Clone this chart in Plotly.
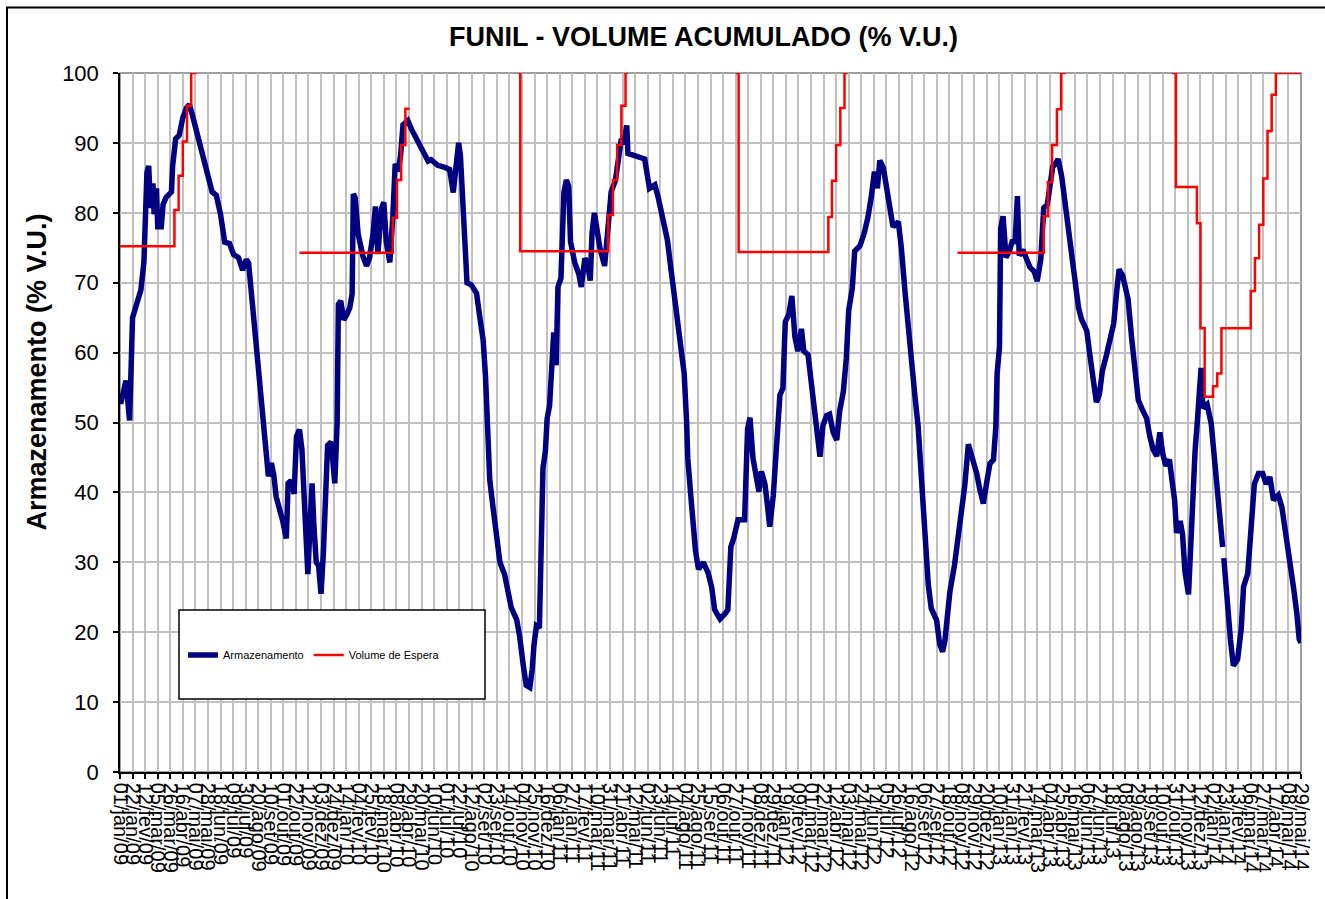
import pandas as pd
import plotly.graph_objects as go

FONT = "Liberation Sans, Arial, sans-serif"

# ---- X tick labels (every 21 days) ----
tick_labels = ["01/jan/09","22/jan/09","12/fev/09","05/mar/09","26/mar/09","16/abr/09","07/mai/09","28/mai/09",
    "18/jun/09","09/jul/09","30/jul/09","20/ago/09","10/set/09","01/out/09","22/out/09","12/nov/09","03/dez/09",
    "24/dez/09","14/jan/10","04/fev/10","25/fev/10","18/mar/10","08/abr/10","29/abr/10","20/mai/10","10/jun/10",
    "01/jul/10","22/jul/10","12/ago/10","02/set/10","23/set/10","14/out/10","04/nov/10","25/nov/10","16/dez/10",
    "06/jan/11","27/jan/11","17/fev/11","10/mar/11","31/mar/11","21/abr/11","12/mai/11","02/jun/11","23/jun/11",
    "14/jul/11","04/ago/11","25/ago/11","15/set/11","06/out/11","27/out/11","17/nov/11","08/dez/11","29/dez/11",
    "19/jan/12","09/fev/12","01/mar/12","22/mar/12","12/abr/12","03/mai/12","24/mai/12","14/jun/12","05/jul/12",
    "26/jul/12","16/ago/12","06/set/12","27/set/12","18/out/12","08/nov/12","29/nov/12","20/dez/12","10/jan/13",
    "31/jan/13","21/fev/13","14/mar/13","04/abr/13","25/abr/13","16/mai/13","06/jun/13","27/jun/13","18/jul/13",
    "08/ago/13","29/ago/13","19/set/13","10/out/13","31/out/13","21/nov/13","12/dez/13","02/jan/14","23/jan/14",
    "13/fev/14","06/mar/14","27/mar/14","17/abr/14","08/mai/14","29/mai/14"]
month_pt = {"jan":1,"fev":2,"mar":3,"abr":4,"mai":5,"jun":6,"jul":7,"ago":8,"set":9,"out":10,"nov":11,"dez":12}

# ---- Armazenamento (% V.U.) : days since 01/jan/2009, values ----
arm_days = [0,2,10,16,21,30,35,40,42,45,48,51,55,57,61,63,69,72,77,86,88,93,99,105,111,116,120,127,135,141,147,
    154,161,168,175,183,190,198,205,211,215,219,225,229,232,236,240,244,248,253,257,261,267,272,278,281,286,291,
    295,300,304,307,310,314,318,321,324,328,332,336,340,344,347,353,359,363,365,369,374,379,384,388,390,393,398,
    406,412,417,423,427,431,437,441,445,451,456,460,465,469,473,481,487,492,501,506,515,520,531,543,551,557,562,
    566,569,573,577,580,587,596,601,607,611,615,618,623,629,635,643,648,654,663,668,674,679,685,689,692,696,701,
    704,707,711,714,718,721,725,729,732,737,739,742,746,750,753,760,767,771,777,781,786,789,793,799,802,810,816,
    821,828,834,838,842,847,849,858,869,877,885,894,899,908,915,921,927,933,938,943,947,949,954,958,962,967,975,
    983,989,994,1003,1011,1016,1021,1026,1033,1044,1049,1053,1058,1062,1068,1072,1078,1082,1086,1092,1097,1103,
    1108,1112,1118,1123,1128,1133,1139,1143,1150,1156,1161,1166,1170,1175,1181,1186,1192,1198,1203,1209,1214,
    1218,1224,1228,1237,1244,1250,1256,1261,1266,1270,1276,1281,1287,1292,1301,1306,1312,1317,1323,1329,1334,
    1340,1345,1351,1356,1365,1370,1375,1379,1383,1387,1395,1401,1407,1412,1418,1423,1432,1437,1443,1449,1454,
    1460,1464,1466,1470,1472,1476,1481,1486,1492,1496,1500,1503,1509,1515,1521,1528,1533,1539,1544,1550,1554,
    1559,1563,1568,1574,1579,1585,1590,1596,1602,1607,1616,1621,1627,1632,1637,1642,1649,1656,1661,1666,1670,
    1676,1680,1685,1691,1696,1702,1709,1716,1721,1727,1733,1738,1743,1748,1754,1759,1763,1766,1772,1776,1780,
    1786,1790,1794,1797,1800,1805,1807,1810,1817,1824,1828,1833,1839,1843,1844,1845,1850,1856,1861,1868,1874,
    1878,1885,1891,1896,1903,1910,1916,1922,1928,1936,1942,1949,1954,1962,1967,1971,1974]
arm_vals = [53,53,56,50.3,65,68,69,73,77,85.7,86.7,80.7,84.2,79.8,83.5,78,78,81.2,82.2,83,86.7,90.6,91.1,93.6,95,
    95.5,94.3,92,89,86.7,84.7,83,82.5,79.8,75.8,75.6,74,73.6,71.8,73.3,72.8,68.9,63,59.5,56,53,49.6,46.2,42.3,
    44.2,42.5,39.4,37.6,35.9,33.4,41.3,41.7,39.8,48,49,46.2,41.3,34,28.3,35.9,41.3,35.4,30,29.5,25.5,31.5,40.8,
    46.7,47.2,41.3,50.1,66.9,67.4,64.7,65.4,66.4,68.4,82.7,82.2,77,73.8,72.4,73.5,77,80.9,74.1,80.6,81.5,75.9,
    72.9,79.4,87,85.9,88.2,92.6,93.2,92,91.2,90,88.8,87.4,87.6,86.8,86.5,86.2,82.9,87.6,90,88.2,81.2,74.7,70,
    69.7,68.5,65.3,61.8,56.5,50,41.8,38.2,33.5,30,28.2,25.9,23.5,21.8,19.4,15.3,12.4,12.1,14.7,18.2,20.9,20.6,
    35.9,43.5,45.9,50.6,52.4,57.6,62.9,58.2,69.4,70.6,75.9,82.9,84.7,83.8,75.9,72.9,71.2,69.4,73.5,72.9,70.3,
    77.1,80,75.9,75,72.4,79.3,83,84.6,87.7,90.6,89.8,92.5,88.5,88.3,88,87.7,83.5,84,82.4,79.3,76.1,71.9,67.6,
    63.9,60.2,57,50.2,44.9,39.6,35.3,31.6,29,30,28.5,26.4,23.2,21.9,22.6,23.2,32.2,33.5,36.1,36.1,49.1,50.7,
    44.9,43.3,40.1,43,41.2,38.3,35.1,39.6,46.5,53.9,54.9,64.4,65.5,68.1,62.3,60.2,63.4,60.2,59.7,55.4,51.2,
    47.5,45.1,49.6,51,51.2,48.6,47.5,51.7,54.4,59.2,66,69.2,74.5,75.3,77.1,79.3,82.4,85.9,83.5,87.5,86.4,83.5,
    81,78,78.7,75,68.8,63.7,58.6,53.5,49.5,41,32.5,26.8,23.4,21.7,18.3,17.2,18.9,22.3,25.7,29.7,33.6,36.5,41,
    46.9,45.5,42.7,40.5,38.4,41.6,44.1,44.7,49.5,56.9,60.8,77.8,79.5,73.6,74.4,76.1,75.6,82.4,73.9,74.7,73.3,
    72.2,71.6,70.2,73.3,80.7,81.2,84.1,86.6,86.9,87.7,85.2,81.8,79,75.6,71,66.5,64.8,63.1,59.7,56.3,52.9,54,
    57.4,59.7,62,64.2,68.8,71.9,71,69,67.6,62,57.4,53.2,51.8,50.6,48.1,46.1,45.2,48.6,45.5,43.8,44.7,41.6,38.7,
    34.2,35.9,34,28.7,25.4,33.6,42.2,46,49.3,54.5,57.8,52.1,52.6,49.8,46.4,42.2,37.4,32.2,None,30.6,24.2,19,
    15.2,16.1,20.4,26.5,28.4,36,41.2,42.7,42.7,41.2,42.2,38.9,39.6,37.9,34.1,30.8,26.1,22.7,19,18.5]

# ---- Volume de Espera (step series, None = break) ----
esp_days = [0,91,98,105,112,119,128, None,
    300,456,463,470,477,484, None,
    666,669,816,824,831,838,845,849, None,
    1029,1034,1184,1190,1197,1204,1211,1216, None,
    1400,1544,1551,1558,1566,1573,1581, None,
    1758,1765,1800,1806,1813,1827,1834,1841,1890,1897,1904,1911,1918,1925,1932,1974]
esp_vals = [75.2,80.4,85.3,90.2,95.3,100,100, None,
    74.3,79.3,84.7,89.7,94.9,94.9, None,
    100,74.5,79.7,84.7,89.7,95.3,100,100, None,
    100,74.4,79.4,84.6,89.7,95,100,100, None,
    74.3,79.5,84.4,89.7,94.8,100,100, None,
    100,83.7,78.5,63.5,53.7,55.2,57.0,63.5,68.8,73.5,78.3,84.9,91.7,96.9,100,100]

base = pd.Timestamp("2009-01-01")
def to_date(d):
    return None if d is None else base + pd.Timedelta(days=d)

arm_x = [to_date(d) for d in arm_days]
esp_x = [to_date(d) for d in esp_days]

def parse_lbl(s):
    dd, mm, yy = s.split("/")
    return pd.Timestamp(year=2000 + int(yy), month=month_pt[mm], day=int(dd))
tick_vals = [parse_lbl(s) for s in tick_labels]

fig = go.Figure()
fig.add_trace(go.Scatter(x=arm_x, y=arm_vals, mode="lines", name="Armazenamento",
                         line=dict(color="#000080", width=5.5), connectgaps=False))
fig.add_trace(go.Scatter(x=esp_x, y=esp_vals, mode="lines", name="Volume de Espera",
                         line=dict(color="#FF0000", width=2.5, shape="hv"), connectgaps=False))

L, R, T, B = 120, 24, 73, 127
W, H = 1325, 899
pw, ph = W - L - R, H - T - B

def px(xp):
    return (xp - L) / pw
def py(yp):
    return (H - B - yp) / ph

fig.update_layout(
    width=W, height=H,
    margin=dict(l=L, r=R, t=T, b=B, autoexpand=False),
    paper_bgcolor="white", plot_bgcolor="white",
    font=dict(family=FONT, color="black"),
    showlegend=True,
    legend=dict(orientation="h", x=px(183), y=py(655), xanchor="left", yanchor="middle",
                bgcolor="rgba(0,0,0,0)", font=dict(size=11, family=FONT),
                itemwidth=30, tracegroupgap=0),
    xaxis=dict(type="date", range=[tick_vals[0], tick_vals[-1]],
               tickmode="array", tickvals=tick_vals, ticktext=tick_labels,
               tickangle=90, tickfont=dict(size=20, family=FONT),
               showgrid=True, gridcolor="#c0c0c0", gridwidth=1.5,
               showline=True, linecolor="black", linewidth=1.5,
               ticks="outside", ticklen=5, tickcolor="black", tickwidth=1.5,
               zeroline=False, automargin=False),
    yaxis=dict(range=[0, 100], tickmode="linear", tick0=0, dtick=10,
               tickfont=dict(size=22, family=FONT), ticklabelstandoff=10,
               showgrid=True, gridcolor="#c0c0c0", gridwidth=1.5,
               showline=True, linecolor="black", linewidth=1.5,
               ticks="outside", ticklen=5, tickcolor="black", tickwidth=1.5,
               zeroline=False, automargin=False),
)

fig.add_annotation(text="<b>FUNIL - VOLUME ACUMULADO (% V.U.)</b>", xref="paper", yref="paper",
                   x=px(703.5), y=py(37), xanchor="center", yanchor="middle", showarrow=False,
                   font=dict(size=27, family=FONT, color="black"))
fig.add_annotation(text="<b>Armazenamento (% V.U.)</b>", xref="paper", yref="paper",
                   x=px(36), y=py(372.5), xanchor="center", yanchor="middle", showarrow=False,
                   textangle=-90, font=dict(size=27, family=FONT, color="black"))

# plot-area top/right frame (gray)
fig.add_shape(type="rect", xref="paper", yref="paper", x0=0, x1=1, y0=0, y1=1,
              line=dict(color="#808080", width=1.5), fillcolor="rgba(0,0,0,0)", layer="below")
# outer chart border
fig.add_shape(type="rect", xref="paper", yref="paper", x0=px(7), x1=px(1335), y0=py(910), y1=py(7.5),
              line=dict(color="black", width=2), fillcolor="rgba(0,0,0,0)", layer="above")
# legend box
fig.add_shape(type="rect", xref="paper", yref="paper", x0=px(179), x1=px(485), y0=py(699), y1=py(610),
              line=dict(color="black", width=1.5), fillcolor="white", layer="above")

fig.write_html("out.html", config={"displayModeBar": False},
               post_script="document.body.style.margin='0px';")
